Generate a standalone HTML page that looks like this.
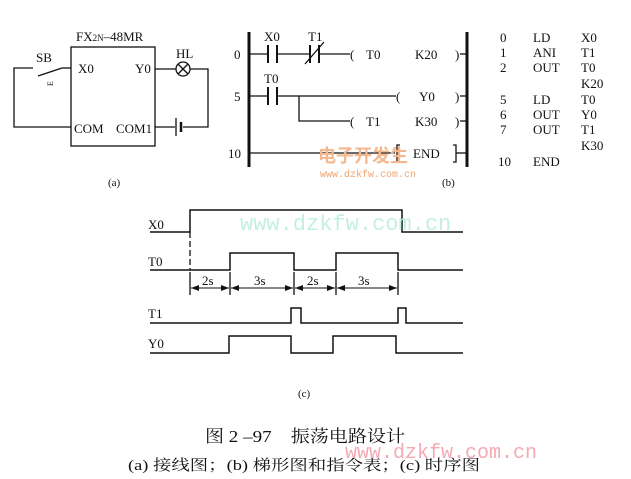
<!DOCTYPE html>
<html><head><meta charset="utf-8"><style>
html,body{margin:0;padding:0;background:#fff;}
svg{display:block;}
text{font-family:"Liberation Serif","Noto Serif CJK SC",serif;fill:#111;}
</style></head><body>
<svg width="631" height="479" viewBox="0 0 631 479" xmlns="http://www.w3.org/2000/svg">
<defs>
<marker id="ar" markerWidth="8" markerHeight="6" refX="8" refY="3" orient="auto" markerUnits="userSpaceOnUse"><path d="M0,0 L8,3 L0,6z" fill="#111"/></marker>
<marker id="al" markerWidth="8" markerHeight="6" refX="0" refY="3" orient="auto" markerUnits="userSpaceOnUse"><path d="M8,0 L0,3 L8,6z" fill="#111"/></marker>
</defs>
<g stroke="#111" stroke-width="1.3" fill="none">
<rect x="71" y="47" width="84" height="99"/>
<polyline points="33,68 14,68 14,127 71,127"/>
<line x1="38" y1="76" x2="62" y2="68"/>
<line x1="62" y1="68" x2="71" y2="68"/>
<line x1="155" y1="69" x2="176" y2="69"/>
<circle cx="183" cy="69" r="7"/>
<line x1="178" y1="64" x2="188" y2="74"/><line x1="188" y1="64" x2="178" y2="74"/>
<polyline points="190,69 208,69 208,127 183,127"/>
<line x1="155" y1="127" x2="175" y2="127"/>
<line x1="176" y1="118" x2="176" y2="136"/>
<line x1="181" y1="122" x2="181" y2="132" stroke-width="2.5"/>
<line x1="249" y1="32" x2="249" y2="167" stroke-width="3"/>
<line x1="467" y1="32" x2="467" y2="167" stroke-width="3"/>
<line x1="249" y1="54" x2="268" y2="54"/>
<line x1="268" y1="45" x2="268" y2="63" stroke-width="2"/><line x1="277" y1="45" x2="277" y2="63" stroke-width="2"/>
<line x1="277" y1="54" x2="310" y2="54"/>
<line x1="310" y1="45" x2="310" y2="63" stroke-width="2"/><line x1="319" y1="45" x2="319" y2="63" stroke-width="2"/>
<line x1="305" y1="64" x2="324" y2="42"/>
<line x1="319" y1="54" x2="350" y2="54"/>
<line x1="460" y1="54" x2="467" y2="54"/>
<line x1="249" y1="96" x2="268" y2="96"/>
<line x1="268" y1="87" x2="268" y2="105" stroke-width="2"/><line x1="277" y1="87" x2="277" y2="105" stroke-width="2"/>
<line x1="277" y1="96" x2="396" y2="96"/>
<line x1="460" y1="96" x2="467" y2="96"/>
<polyline points="299,96 299,121 350,121"/>
<line x1="460" y1="121" x2="467" y2="121"/>
<line x1="249" y1="153" x2="395" y2="153"/>
<polyline points="400,145 397,145 397,162 400,162"/>
<polyline points="453,145 456,145 456,162 453,162"/>
<line x1="456" y1="153" x2="467" y2="153"/>
<polyline points="150,232 190,232 190,210 402,210 402,232 463,232" stroke-width="1.5"/>
<line x1="190" y1="232" x2="190" y2="270" stroke-dasharray="6,3"/>
<polyline points="150,270 230,270 230,253 294,253 294,270 336,270 336,253 398,253 398,270 463,270" stroke-width="1.5"/>
<line x1="190" y1="272" x2="190" y2="295"/><line x1="230" y1="272" x2="230" y2="295"/><line x1="294" y1="272" x2="294" y2="295"/><line x1="336" y1="272" x2="336" y2="295"/><line x1="398" y1="272" x2="398" y2="295"/>
<line x1="191" y1="288" x2="229" y2="288" marker-start="url(#al)" marker-end="url(#ar)" stroke-width="1"/>
<line x1="231" y1="288" x2="293" y2="288" marker-start="url(#al)" marker-end="url(#ar)" stroke-width="1"/>
<line x1="295" y1="288" x2="335" y2="288" marker-start="url(#al)" marker-end="url(#ar)" stroke-width="1"/>
<line x1="337" y1="288" x2="397" y2="288" marker-start="url(#al)" marker-end="url(#ar)" stroke-width="1"/>
<polyline points="150,323 291,323 291,308 301,308 301,323 398,323 398,308 406,308 406,323 463,323" stroke-width="1.5"/>
<polyline points="150,353 229,353 229,336 291,336 291,353 333,353 333,336 396,336 396,353 463,353" stroke-width="1.5"/>
</g>
<g font-size="13">
<text x="76" y="41">FX<tspan font-size="9">2N</tspan>–48MR</text>
<text x="36" y="62">SB</text>
<text x="78" y="73">X0</text><text x="135" y="73">Y0</text>
<text x="176" y="58">HL</text>
<text x="74" y="133">COM</text><text x="116" y="133">COM1</text>
<text x="108" y="186" font-size="11">(a)</text>
<text x="45" y="86" font-size="8" transform="rotate(-90 49 82)">E</text>
<text x="234" y="59">0</text><text x="234" y="101">5</text><text x="228" y="158">10</text>
<text x="264" y="41">X0</text><text x="308" y="41">T1</text><text x="264" y="83">T0</text>
<text x="350" y="59">(</text><text x="366" y="59">T0</text><text x="415" y="59">K20</text><text x="455" y="59">)</text>
<text x="396" y="101">(</text><text x="419" y="101">Y0</text><text x="455" y="101">)</text>
<text x="350" y="126">(</text><text x="366" y="126">T1</text><text x="415" y="126">K30</text><text x="455" y="126">)</text>
<text x="413" y="158">END</text>
<text x="442" y="186" font-size="11">(b)</text>
<text x="500" y="42">0</text><text x="533" y="42">LD</text><text x="581" y="42">X0</text>
<text x="500" y="57">1</text><text x="533" y="57">ANI</text><text x="581" y="57">T1</text>
<text x="500" y="72">2</text><text x="533" y="72">OUT</text><text x="581" y="72">T0</text>
<text x="581" y="88">K20</text>
<text x="500" y="104">5</text><text x="533" y="104">LD</text><text x="581" y="104">T0</text>
<text x="500" y="119">6</text><text x="533" y="119">OUT</text><text x="581" y="119">Y0</text>
<text x="500" y="134">7</text><text x="533" y="134">OUT</text><text x="581" y="134">T1</text>
<text x="581" y="150">K30</text>
<text x="498" y="166">10</text><text x="533" y="166">END</text>
<text x="148" y="229">X0</text><text x="148" y="266">T0</text><text x="148" y="318">T1</text><text x="148" y="348">Y0</text>
<text x="202" y="285">2s</text><text x="254" y="285">3s</text><text x="307" y="285">2s</text><text x="358" y="285">3s</text>
<text x="298" y="397" font-size="11">(c)</text>
</g>
<text x="205" y="442" font-size="17" textLength="200" lengthAdjust="spacingAndGlyphs">图 2 –97　振荡电路设计</text>
<text x="128" y="470" font-size="15" textLength="352" lengthAdjust="spacingAndGlyphs">(a) 接线图；(b) 梯形图和指令表；(c) 时序图</text>
<text x="318" y="162" font-size="18" style="fill:#f4b890;font-family:'Noto Sans CJK SC',sans-serif;font-weight:bold">电子开发生</text>
<text x="320" y="177" font-size="10" style="fill:#f2a36a;font-family:'Liberation Mono',monospace">www.dzkfw.com.cn</text>
<text x="240" y="230" font-size="22" style="fill:#c3f0e0;font-family:'Liberation Mono',monospace">www.dzkfw.com.cn</text>
<text x="345" y="458" font-size="20" style="fill:#f4aab4;font-family:'Liberation Mono',monospace">www.dzkfw.com.cn</text>
</svg>
</body></html>
